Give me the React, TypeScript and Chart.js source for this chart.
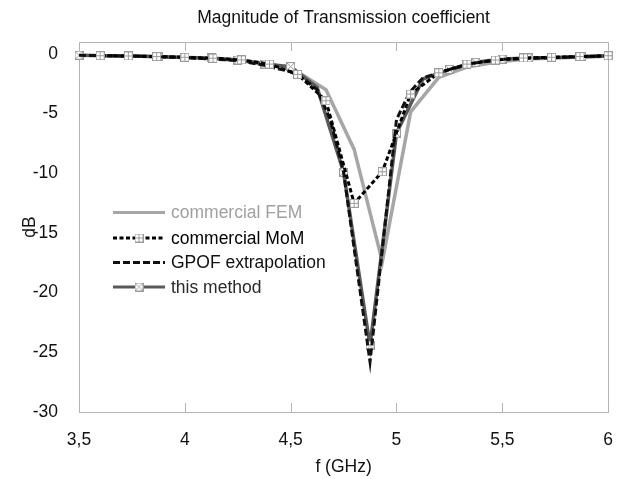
import React, { useEffect, useRef } from "react";
import { Chart, registerables } from "chart.js";

Chart.register(...registerables);

// ---------- data ----------
const TITLE = "Magnitude of Transmission coefficient";
const X_TITLE = "f (GHz)";
const Y_TITLE = "dB";
const X_TICKS = [3.5, 4, 4.5, 5, 5.5, 6];
const Y_TICKS = [-30, -25, -20, -15, -10, -5, 0];

const LABEL_FEM = "commercial FEM";
const LABEL_MOM = "commercial MoM";
const LABEL_GPOF = "GPOF extrapolation";
const LABEL_THIS = "this method";

const FEM_FREQ = [3.6, 3.733, 3.867, 4.0, 4.133, 4.267, 4.4, 4.533, 4.667, 4.8, 4.933, 5.067, 5.2, 5.333, 5.467, 5.6, 5.733, 5.867, 6.0];
const FEM_DB = [-0.15, -0.18, -0.22, -0.3, -0.4, -0.55, -0.8, -1.5, -3.0, -8.0, -17.4, -4.85, -1.96, -1.1, -0.7, -0.45, -0.35, -0.28, -0.2];

const MOM_FREQ = [3.6, 3.733, 3.867, 4.0, 4.133, 4.267, 4.4, 4.533, 4.667, 4.8, 4.933, 5.067, 5.2, 5.333, 5.467, 5.6, 5.733, 5.867, 6.0];
const MOM_DB = [-0.15, -0.17, -0.22, -0.28, -0.36, -0.5, -0.85, -1.71, -3.92, -12.52, -9.87, -3.36, -1.58, -0.85, -0.51, -0.34, -0.28, -0.22, -0.15];

const GPOF_FREQ = [3.5, 3.75, 4.0, 4.25, 4.375, 4.5, 4.5625, 4.625, 4.6875, 4.75, 4.8125, 4.875, 5.0, 5.0625, 5.125, 5.25, 5.375, 5.5, 5.75, 6.0];
const GPOF_DB = [-0.12, -0.18, -0.3, -0.55, -0.95, -1.5, -2.1, -3.0, -5.5, -9.9, -17.9, -25.8, -5.5, -3.2, -2.0, -1.3, -0.75, -0.45, -0.3, -0.15];

const THIS_FREQ = [3.5, 3.625, 3.75, 3.875, 4.0, 4.125, 4.25, 4.375, 4.5, 4.625, 4.75, 4.875, 5.0, 5.125, 5.25, 5.375, 5.5, 5.625, 5.75, 5.875, 6.0];
const THIS_DB = [-0.1, -0.15, -0.18, -0.23, -0.3, -0.34, -0.51, -0.85, -1.06, -2.8, -9.92, -24.45, -6.65, -2.1, -1.29, -0.7, -0.43, -0.34, -0.3, -0.23, -0.15];

// ---------- styles ----------
const FONT_FAMILY = "Arial, 'Liberation Sans', sans-serif";
const FONT_SIZE = 17.5;
const AXIS_COLOR = "#b3b3b3";
const MARKER_COLOR = "#9c9c9c";
const THIS_HIDDEN_MARKERS = [1, 2, 4, 9, 13, 18];

function makeMarker(kind: "plus" | "cross") {
  const s = 9;
  const c = document.createElement("canvas");
  c.width = s;
  c.height = s;
  const g = c.getContext("2d")!;
  g.fillStyle = "#ffffff";
  g.fillRect(0, 0, s, s);
  g.strokeStyle = MARKER_COLOR;
  g.lineWidth = 1;
  g.strokeRect(0.5, 0.5, s - 1, s - 1);
  g.beginPath();
  if (kind === "plus") {
    g.moveTo(4.5, 0.5);
    g.lineTo(4.5, s - 0.5);
    g.moveTo(0.5, 4.5);
    g.lineTo(s - 0.5, 4.5);
  } else {
    g.moveTo(0.5, 0.5);
    g.lineTo(s - 0.5, s - 0.5);
    g.moveTo(s - 0.5, 0.5);
    g.lineTo(0.5, s - 0.5);
  }
  g.stroke();
  return c;
}

function pts(xs: number[], ys: number[]) {
  return xs.map((x, i) => ({ x, y: ys[i] }));
}

export default function App() {
  const ref = useRef<HTMLCanvasElement | null>(null);

  useEffect(() => {
    const canvas = ref.current;
    if (!canvas) return;
    const plusMarker = makeMarker("plus");
    const crossMarker = makeMarker("cross");

    const legendItems = [
      { text: LABEL_FEM, color: "#a6a6a6", textColor: "#a0a0a0", width: 3, dash: [] as number[], marker: null as HTMLCanvasElement | null },
      { text: LABEL_MOM, color: "#000000", textColor: "#000000", width: 3, dash: [4, 2.5], marker: plusMarker },
      { text: LABEL_GPOF, color: "#111111", textColor: "#111111", width: 3, dash: [7, 3], marker: null },
      { text: LABEL_THIS, color: "#595959", textColor: "#2a2a2a", width: 3, dash: [], marker: crossMarker },
    ];

    const framePlugin = {
      id: "frame",
      beforeDatasetsDraw(chart: any) {
        const { ctx, chartArea } = chart;
        const { left, right, top, bottom } = chartArea;
        const xs = chart.scales.x;
        ctx.save();
        ctx.strokeStyle = AXIS_COLOR;
        ctx.lineWidth = 1;
        ctx.strokeRect(Math.round(left) + 0.5, Math.round(top) + 0.5, Math.round(right - left), Math.round(bottom - top));
        ctx.beginPath();
        X_TICKS.forEach((v) => {
          const px = Math.round(xs.getPixelForValue(v)) + 0.5;
          ctx.moveTo(px, bottom);
          ctx.lineTo(px, bottom - 9);
          ctx.moveTo(px, top);
          ctx.lineTo(px, top + 9);
        });
        ctx.stroke();
        ctx.restore();
      },
    };

    const textPlugin = {
      id: "insideLegend",
      afterDraw(chart: any) {
        const ctx = chart.ctx;
        const area = chart.chartArea;
        ctx.save();
        // title centred over the plot area
        ctx.fillStyle = "#111111";
        ctx.font = `${FONT_SIZE}px ${FONT_FAMILY}`;
        ctx.textBaseline = "middle";
        ctx.textAlign = "center";
        ctx.fillText(TITLE, (area.left + area.right) / 2, 18);

        const x0 = 113;
        const x1 = 165;
        const tx = 171;
        const rows = [212.5, 238, 262.5, 287];
        legendItems.forEach((it, i) => {
          const y = rows[i];
          ctx.beginPath();
          ctx.strokeStyle = it.color;
          ctx.lineWidth = it.width;
          ctx.setLineDash(it.dash);
          ctx.moveTo(x0, y);
          ctx.lineTo(x1, y);
          ctx.stroke();
          ctx.setLineDash([]);
          if (it.marker) {
            ctx.drawImage(it.marker, (x0 + x1) / 2 - 4.5, y - 4.5);
          }
          ctx.fillStyle = it.textColor;
          ctx.textBaseline = "middle";
          ctx.textAlign = "left";
          ctx.fillText(it.text, tx, y + 1);
        });
        ctx.restore();
      },
    };

    const chart = new Chart(canvas, {
      type: "line",
      data: {
        datasets: [
          {
            label: LABEL_MOM,
            data: pts(MOM_FREQ, MOM_DB),
            borderColor: "#000000",
            borderWidth: 3,
            borderDash: [4.5, 2.5],
            pointStyle: plusMarker,
            pointRadius: 5,
            tension: 0,
            clip: false,
          },
          {
            label: LABEL_GPOF,
            data: pts(GPOF_FREQ, GPOF_DB),
            borderColor: "#111111",
            borderWidth: 3,
            borderDash: [7, 3],
            pointRadius: 0,
            tension: 0,
            clip: false,
          },
          {
            label: LABEL_THIS,
            data: pts(THIS_FREQ, THIS_DB),
            borderColor: "#595959",
            borderWidth: 3.5,
            pointStyle: crossMarker,
            pointRadius: (c: any) => (THIS_HIDDEN_MARKERS.includes(c.dataIndex) ? 0 : 5),
            tension: 0,
            clip: false,
          },
          {
            label: LABEL_FEM,
            data: pts(FEM_FREQ, FEM_DB),
            borderColor: "#a6a6a6",
            borderWidth: 3.5,
            pointRadius: 0,
            tension: 0,
            clip: false,
          },
        ] as any,
      },
      options: {
        animation: false,
        responsive: false,
        layout: { padding: { left: 0, right: 12.5, top: 42, bottom: 0 } },
        font: { family: FONT_FAMILY, size: FONT_SIZE },
        plugins: {
          legend: { display: false },
          tooltip: { enabled: false },
          title: { display: false },
        },
        scales: {
          x: {
            type: "linear",
            min: 3.5,
            max: 6,
            grid: { display: false },
            border: { display: false },
            afterBuildTicks: (s: any) => {
              s.ticks = X_TICKS.map((v) => ({ value: v }));
            },
            afterFit: (s: any) => {
              s.height = 67;
            },
            ticks: {
              color: "#111111",
              padding: 10,
              maxRotation: 0,
              font: { family: FONT_FAMILY, size: FONT_SIZE },
              callback: (v: any) => String(v).replace(".", ","),
            },
            title: {
              display: true,
              text: X_TITLE,
              color: "#111111",
              font: { family: FONT_FAMILY, size: FONT_SIZE, lineHeight: 1.2 },
              padding: { top: 0, bottom: 1.5 },
            },
          },
          y: {
            type: "linear",
            min: -30,
            max: 1,
            grid: { display: false },
            border: { display: false },
            afterBuildTicks: (s: any) => {
              s.ticks = Y_TICKS.map((v) => ({ value: v }));
            },
            afterFit: (s: any) => {
              s.width = 79;
            },
            ticks: {
              color: "#111111",
              padding: 13,
              font: { family: FONT_FAMILY, size: FONT_SIZE },
            },
            title: {
              display: true,
              text: Y_TITLE,
              color: "#111111",
              font: { family: FONT_FAMILY, size: FONT_SIZE, lineHeight: 1.2 },
              padding: { top: 20, bottom: 0 },
            },
          },
        },
      } as any,
      plugins: [framePlugin, textPlugin],
    });

    return () => chart.destroy();
  }, []);

  return (
    <div style={{ position: "fixed", left: 0, top: 0, width: 623, height: 479, background: "#ffffff" }}>
      <canvas ref={ref} width={623} height={479} style={{ display: "block", width: 623, height: 479 }} />
    </div>
  );
}
